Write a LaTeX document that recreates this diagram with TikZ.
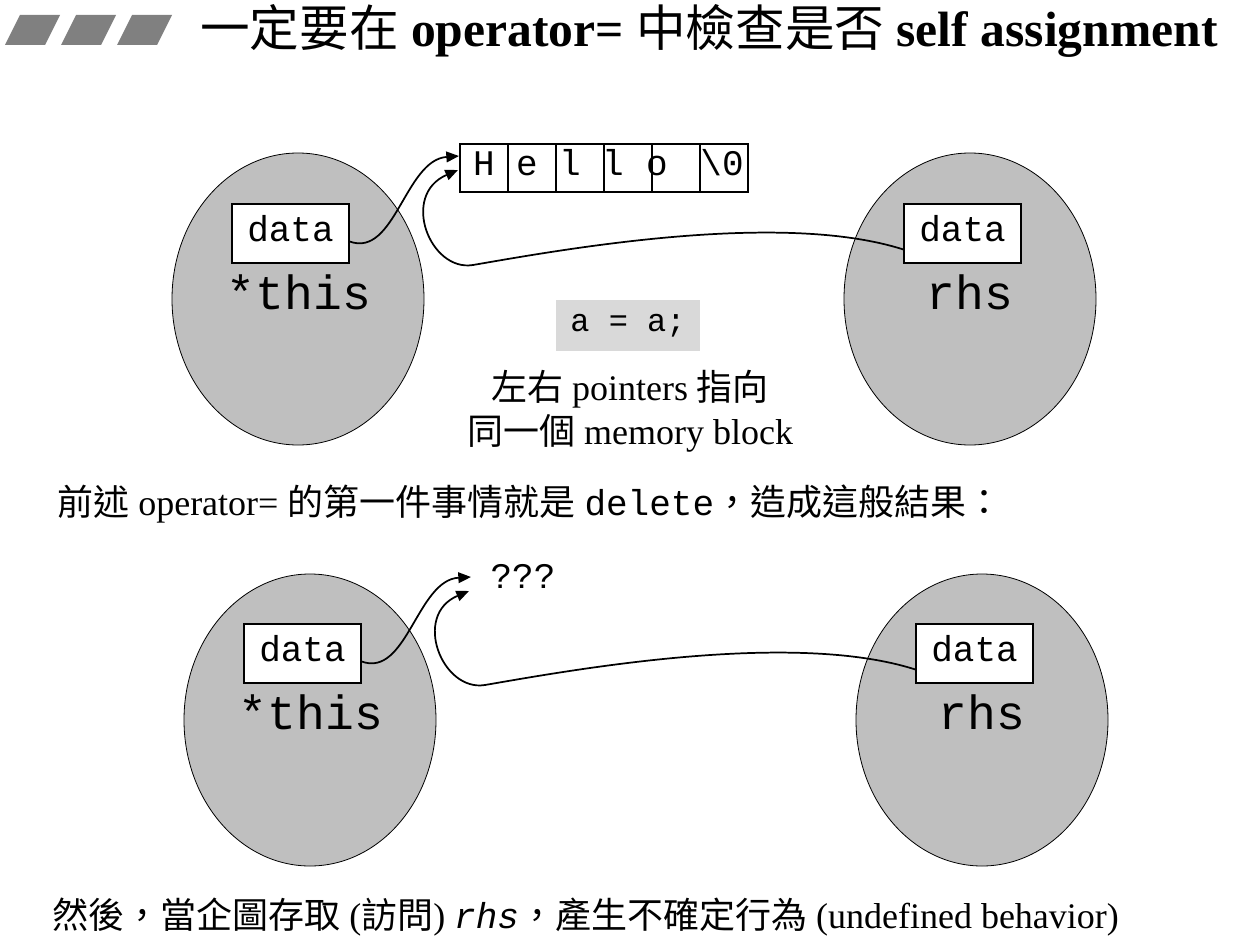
\documentclass[tikz,border=0pt]{standalone}
\usepackage{fontspec}
\setmainfont{Liberation Serif}
\setmonofont{Liberation Mono}
\newfontfamily\cjk{Noto Sans CJK TC}
\usetikzlibrary{shapes.geometric,arrows.meta,positioning}
\definecolor{blobgray}{gray}{0.75}
\definecolor{markgray}{gray}{0.5}
\definecolor{codegray}{gray}{0.85}

\begin{document}
\begin{tikzpicture}[x=0.75pt, y=-0.75pt,
    blob/.style={ellipse, draw, fill=blobgray, line width=0.6pt, minimum width=189pt, minimum height=219pt},
    field/.style={rectangle, draw, fill=white, line width=0.9pt, minimum width=87.75pt, minimum height=44.25pt, inner sep=0pt, text depth=8pt, font=\ttfamily\fontsize{27}{30}\selectfont},
    cell/.style={rectangle, draw, line width=0.9pt, minimum size=36pt, inner sep=0pt},
    chr/.style={font=\ttfamily\fontsize{27}{30}\selectfont, inner sep=0pt, anchor=base},
    objname/.style={font=\ttfamily\fontsize{36}{40}\selectfont, inner sep=0pt, anchor=base},
    code/.style={rectangle, fill=codegray, minimum width=108pt, minimum height=38.25pt, font=\ttfamily\fontsize{24}{28}\selectfont},
    caption/.style={font=\fontsize{27}{33}\selectfont, inner sep=0pt, anchor=base west},
    ptr/.style={line width=1.3pt, -{Triangle[length=9.5pt,width=8pt]}}
]
\useasboundingbox (0,0) rectangle (1239,949);

% Title
\foreach \dx in {0,56,112}
  \fill[markgray] (5+\dx,45) -- (20+\dx,15) -- (60+\dx,15) -- (45+\dx,45) -- cycle;
\node[font=\fontsize{37.2}{40}\selectfont, inner sep=0pt, anchor=base west] (title) at (200,47)
  {{\cjk 一定要在} \textbf{operator=} {\cjk 中檢查是否} \textbf{self assignment}};

% Objects (before)
\node[blob] (thisA) at (298,299) {};
\node[blob] (rhsA) at (970,299) {};
\node[field] (dTL) at (290.5,233.5) {data};
\node[field] (dTR) at (962.5,233.5) {data};
\node[objname] (thisAname) at (299,309) {*this};
\node[objname] (rhsAname) at (970,309) {rhs};

% Memory block
\foreach \i in {1,...,6}
  \node[cell] (c\i) at ({436+48*\i},168) {};
\foreach \x/\ch [count=\k] in {484/H,527/e,570/l,613/l,657/o,722/{\textbackslash 0}}
  \node[chr] (ch\k) at (\x,175) {\ch};
\coordinate (tipA) at (459,156);
\coordinate (tipB) at (458,170);

% Middle notes
\node[code] (assign) at (628,325.5) {a = a;};
\node[font=\fontsize{27}{33}\selectfont, align=center, inner sep=0pt] (same) at (630,411)
  {{\cjk 左右} pointers {\cjk 指向}\\{\cjk 同一個} memory block};

\node[caption] (cap1) at (57,515)
  {{\cjk 前述} operator= {\cjk 的第一件事情就是} \texttt{delete}{\cjk ，造成這般結果：}};

% Objects (after)
\node[blob] (thisB) at (310,720) {};
\node[blob] (rhsB) at (982,720) {};
\node[field] (dBL) at (302.5,653.5) {data};
\node[field] (dBR) at (974.5,653.5) {data};
\node[objname] (thisBname) at (311,729) {*this};
\node[objname] (rhsBname) at (982,729) {rhs};
\node[chr] (unknown) at (523,588) {???};
\coordinate (tipC) at (471,577);
\coordinate (tipD) at (469,591);

\node[caption] (cap2) at (52,928)
  {{\cjk 然後，當企圖存取} ({\cjk 訪問}) \texttt{\itshape rhs}{\cjk ，產生不確定行為} (undefined behavior)};

% Pointers
\draw[ptr] ([yshift=-6pt]dTL.east) .. controls (395,258) and (405,160) .. (tipA);
\draw[ptr] ([yshift=-12pt]dTR.west) .. controls (780,210) and (560,250) .. (473,265)
  .. controls (430,272) and (400,195) .. (tipB);
\draw[ptr] ([yshift=-6pt]dBL.east) .. controls (407,678) and (417,580) .. (tipC);
\draw[ptr] ([yshift=-12pt]dBR.west) .. controls (792,630) and (572,670) .. (485,685)
  .. controls (442,692) and (412,615) .. (tipD);

\end{tikzpicture}
\end{document}
